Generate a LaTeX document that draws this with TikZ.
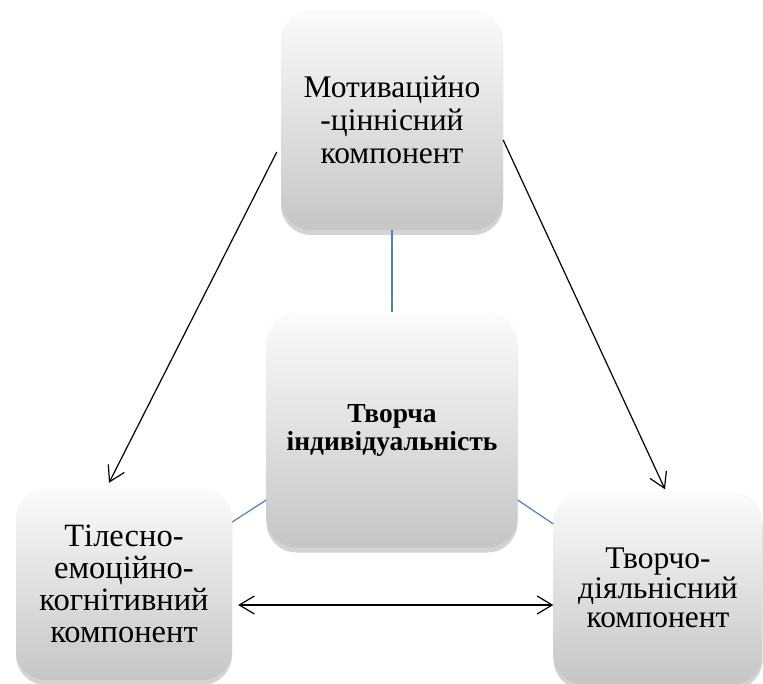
\documentclass[tikz,border=0pt]{standalone}
\usepackage{fontspec}
\setmainfont{Liberation Serif}
\usetikzlibrary{shadows,arrows.meta}
\definecolor{linkblue}{RGB}{79,129,189}

\begin{document}
\begin{tikzpicture}[x=1pt, y=-1pt, >={Straight Barb[length=15pt,width=18pt]},
  box/.style = {rounded corners=30pt, inner sep=0pt, align=center, top color=gray!3, bottom color=gray!45,
    drop shadow={opacity=0.35, shadow xshift=0pt, shadow yshift=-5pt}},
  arr/.style = {black, line width=1.2pt},
  link/.style = {linkblue, line width=1.2pt}]
\useasboundingbox (0,0) rectangle (763,684);
\node[box, minimum width=222pt, minimum height=220pt, font=\fontsize{31.5}{33}\selectfont] (mot) at (392,120) {Мотиваційно\\-ціннісний\\компонент};
\node[box, minimum width=251pt, minimum height=235pt, font=\fontsize{27.5}{28}\selectfont\bfseries] (tin) at (392,430) {Творча\\індивідуальність};
\node[box, minimum width=216pt, minimum height=192pt, font=\fontsize{32.5}{32}\selectfont] (til) at (124,584) {Тілесно-\\емоційно-\\когнітивний\\компонент};
\node[box, minimum width=209pt, minimum height=193pt, font=\fontsize{31.5}{29.5}\selectfont] (tdk) at (658,588) {Творчо-\\діяльнісний\\компонент};
\draw[link] (mot.south) -- (tin.north);
\draw[link] ([yshift=-70pt]tin.west) -- ([yshift=62pt]til.east);
\draw[link] ([yshift=-70pt]tin.east) -- ([yshift=64pt]tdk.west);
\draw[arr, ->] ([shift={(-4pt,-32pt)}]mot.west) -- ([shift={(-15pt,5pt)}]til.north);
\draw[arr, ->] ([yshift=-20pt]mot.east) -- ([shift={(7pt,2pt)}]tdk.north);
\coordinate (h) at ([shift={(6pt,-21pt)}]til.east);
\draw[arr, <->] (h) -- (h -| tdk.west);
\end{tikzpicture}
\end{document}
